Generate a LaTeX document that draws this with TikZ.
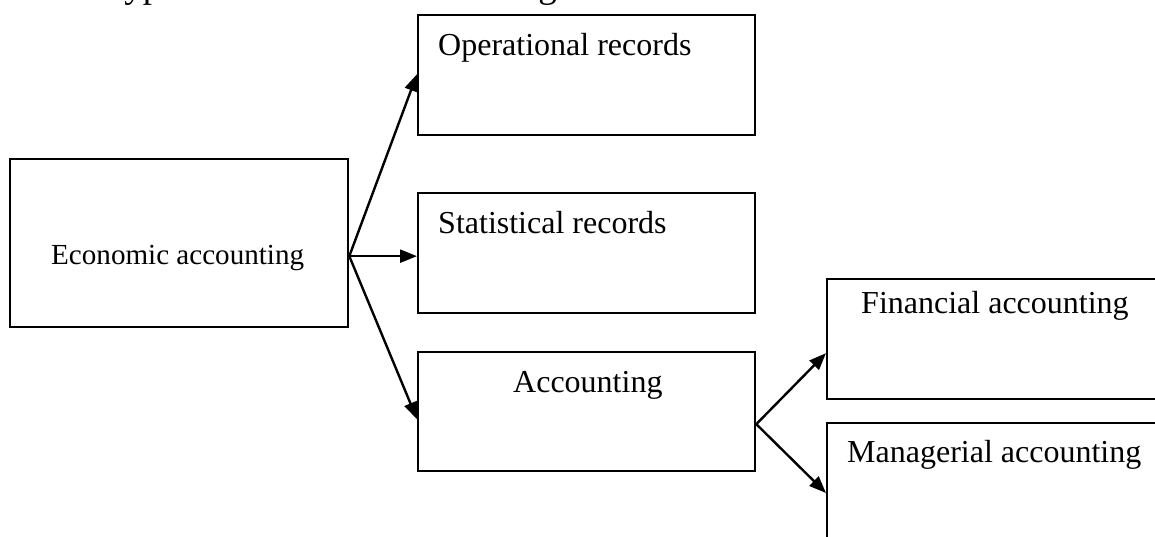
\documentclass[tikz,border=0pt]{standalone}
\usepackage{fontspec}
\setmainfont{Liberation Serif}
\usetikzlibrary{arrows.meta,calc}
\begin{document}
\begin{tikzpicture}[x=1pt,y=-1pt,
  box/.style={draw,line width=2.3pt,minimum width=337pt,minimum height=120pt,inner sep=0pt,anchor=north west},
  txt/.style={inner sep=0pt,anchor=base west,font=\fontsize{32}{38}\selectfont},
  conn/.style={line width=2.4pt,-{Triangle[length=17pt,width=13pt]}}]
\useasboundingbox (0,0) rectangle (1155,536);
\clip (0,0) rectangle (1155,536);
\node[inner sep=0pt,anchor=base west,font=\fontsize{37}{44}\selectfont] (title) at (104,-3) {Types of economic accounting};
\node[box,minimum width=338pt,minimum height=168pt] (eco) at (9,158) {};
\node[box] (op) at (417,14) {};
\node[box] (st) at (417,192) {};
\node[box,minimum height=119pt] (acc) at (417,351) {};
\node[box] (fin) at (826,278) {};
\node[box,minimum height=140pt] (man) at (826,422) {};
\node[txt,font=\fontsize{29.1}{35}\selectfont] (t1) at (51,264) {Economic accounting};
\node[txt] (t2) at (438,55) {Operational records};
\node[txt] (t3) at (438,233) {Statistical records};
\node[txt] (t4) at (513,392) {Accounting};
\node[txt] (t5) at (861,313) {Financial accounting};
\node[txt] (t6) at (847,462) {Managerial accounting};
\coordinate (f1) at ($(eco.east)+(0,13)$);
\coordinate (f2) at ($(acc.east)+(0,12.5)$);
\draw[conn] (f1) -- ($(op.west)+(0,-1)$);
\draw[conn] (f1) -- (st.west |- f1);
\draw[conn] (f1) -- ($(acc.west)+(0,7.5)$);
\draw[conn] (f2) -- ($(fin.west)+(0,14)$);
\draw[conn] (f2) -- ($(man.north west)+(0,71)$);
\end{tikzpicture}
\end{document}
